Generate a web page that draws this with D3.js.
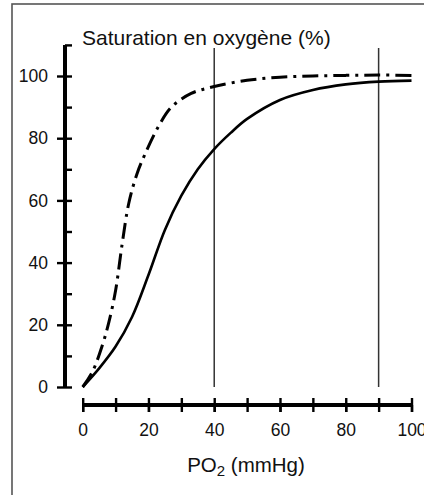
<!DOCTYPE html>
<html><head><meta charset="utf-8">
<script src="https://cdn.jsdelivr.net/npm/d3@7/dist/d3.min.js"></script>
<style>
html,body{margin:0;padding:0;background:#fff;}
svg{display:block;font-family:"Liberation Sans",Arial,Helvetica,sans-serif;}
</style></head>
<body>
<svg id="c" width="424" height="495"></svg>
<script>
// Data
const adultPO2 = [0, 5, 10, 15, 20, 25, 30, 35, 40, 45, 50, 60, 70, 80, 90, 100];
const adultSat = [0, 6, 13, 22.5, 36, 50.5, 61.5, 70, 76.5, 81.7, 86.2, 92.3, 95.5, 97.3, 98.2, 98.5];
const fetalPO2 = [0, 3, 6, 8, 10, 12, 14, 16.5, 19, 23, 27, 33, 40, 50, 60, 70, 80, 90, 100];
const fetalSat = [0, 5, 13.5, 21, 31, 46, 59, 68.5, 75, 83.7, 90, 94.4, 96.6, 98.6, 99.6, 100, 100.2, 100.3, 100.2];
const xMajorTicks = [0, 20, 40, 60, 80, 100];
const xAllTicks = [0, 10, 20, 30, 40, 50, 60, 70, 80, 90, 100];
const yMajorTicks = [0, 20, 40, 60, 80, 100];
const yAllTicks = [0, 10, 20, 30, 40, 50, 60, 70, 80, 90, 100, 110];
const refLines = [40, 90];
const yTitle = "Saturation en oxygène (%)";
const xTitleMain = "PO";
const xTitleSub = "2";
const xTitleRest = " (mmHg)";

const svg = d3.select("#c");
const x = d3.scaleLinear().domain([0, 100]).range([82.7, 411.5]);
const y = d3.scaleLinear().domain([0, 100]).range([387, 76]);
const yAxisX = 65, xAxisY = 405;

// frame
svg.append("rect").attr("x", 12).attr("y", 4).attr("width", 420).attr("height", 520)
  .attr("fill", "#fff").attr("stroke", "#555").attr("stroke-width", 1.6);

// reference vertical lines
svg.selectAll("line.ref").data(refLines).join("line").attr("class", "ref")
  .attr("x1", d => x(d)).attr("x2", d => x(d))
  .attr("y1", y(109)).attr("y2", y(0))
  .attr("stroke", "#333").attr("stroke-width", 1.5);

// Y axis
svg.append("line").attr("x1", yAxisX).attr("x2", yAxisX).attr("y1", y(110)).attr("y2", y(0))
  .attr("stroke", "#000").attr("stroke-width", 4);
const yl = svg.append("g").attr("transform", `translate(${yAxisX},0)`)
  .call(d3.axisLeft(y).tickValues(yMajorTicks).tickSize(8).tickPadding(9));
const yr = svg.append("g").attr("transform", `translate(${yAxisX},0)`)
  .call(d3.axisRight(y).tickValues(yAllTicks).tickSize(7).tickFormat(""));
[yl, yr].forEach(g => {
  g.select(".domain").remove();
  g.selectAll(".tick line").attr("stroke", "#000").attr("stroke-width", 2.4);
});
yl.selectAll(".tick text").attr("font-size", 17.5).attr("fill", "#111")
  .attr("font-family", "Liberation Sans, Arial, sans-serif");

// X axis
svg.append("line").attr("x1", x(0)).attr("x2", x(100)).attr("y1", xAxisY).attr("y2", xAxisY)
  .attr("stroke", "#000").attr("stroke-width", 4);
const xb = svg.append("g").attr("transform", `translate(0,${xAxisY})`)
  .call(d3.axisBottom(x).tickValues(xMajorTicks).tickSize(7).tickPadding(12));
const xb2 = svg.append("g").attr("transform", `translate(0,${xAxisY})`)
  .call(d3.axisBottom(x).tickValues(xAllTicks).tickSize(7).tickFormat(""));
const xt = svg.append("g").attr("transform", `translate(0,${xAxisY})`)
  .call(d3.axisTop(x).tickValues(xAllTicks).tickSize(7).tickFormat(""));
[xb, xb2, xt].forEach(g => {
  g.select(".domain").remove();
  g.selectAll(".tick line").attr("stroke", "#000").attr("stroke-width", 2.4);
});
xb.selectAll(".tick text").attr("font-size", 17.5).attr("fill", "#111")
  .attr("font-family", "Liberation Sans, Arial, sans-serif");

// curves
const line = d3.line().x(d => x(d[0])).y(d => y(d[1])).curve(d3.curveCatmullRom.alpha(0.5));
const adult = adultPO2.map((v, i) => [v, adultSat[i]]);
const fetal = fetalPO2.map((v, i) => [v, fetalSat[i]]);
svg.append("path").datum(fetal).attr("d", line).attr("fill", "none")
  .attr("stroke", "#000").attr("stroke-width", 3)
  .attr("stroke-dasharray", "16,6,3,6");
svg.append("path").datum(adult).attr("d", line).attr("fill", "none")
  .attr("stroke", "#000").attr("stroke-width", 2.6);

// titles
svg.append("text").attr("x", 82).attr("y", 45).attr("font-size", 21).attr("fill", "#111")
  .text(yTitle);
const xt2 = svg.append("text").attr("x", 246).attr("y", 472).attr("text-anchor", "middle")
  .attr("font-size", 20.5).attr("fill", "#111");
xt2.append("tspan").text(xTitleMain);
xt2.append("tspan").attr("font-size", 15).attr("dy", 4).text(xTitleSub);
xt2.append("tspan").attr("dy", -4).text(xTitleRest);
</script>
</body></html>
